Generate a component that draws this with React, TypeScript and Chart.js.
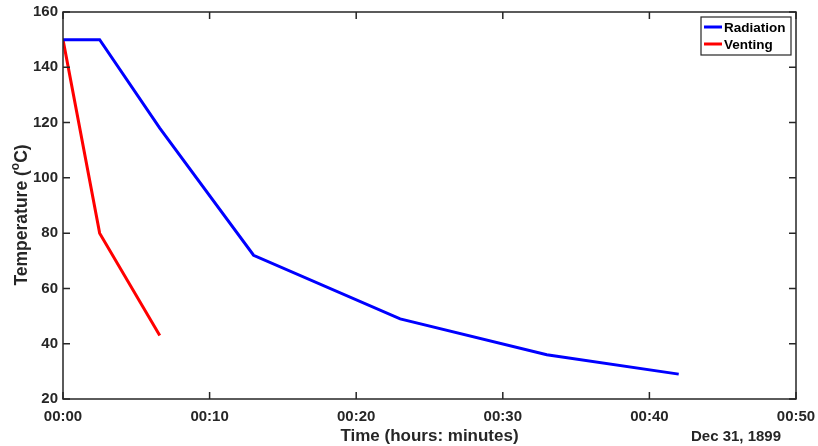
import React, { useEffect, useRef } from "react";
import { Chart, registerables } from "chart.js";

Chart.register(...registerables);

const radiationTime = [0, 2.5, 6.6, 13, 23, 33, 42];
const radiationTemp = [150, 150, 118, 72, 49, 36, 29];
const ventingTime = [0, 2.5, 6.6];
const ventingTemp = [150, 80, 43];
const seriesLabels = ["Radiation", "Venting"];
const xTitle = "Time (hours: minutes)";
const yTitleParts = ["Temperature (", "o", "C)"];
const dateLabel = "Dec 31, 1899";

const FONT = "'Liberation Sans', Arial, sans-serif";
const AXIS = "#262626";

function fmt(v: number) {
  const h = Math.floor(v / 60);
  const m = Math.round(v % 60);
  return String(h).padStart(2, "0") + ":" + String(m).padStart(2, "0");
}

const framePlugin = {
  id: "frame",
  afterDraw(chart: any) {
    const { ctx, chartArea: a, scales } = chart;
    const x = scales.x;
    const y = scales.y;
    ctx.save();
    ctx.strokeStyle = AXIS;
    ctx.lineWidth = 1.5;
    ctx.strokeRect(a.left, a.top, a.right - a.left, a.bottom - a.top);
    const tl = 7;
    ctx.beginPath();
    x.ticks.forEach((t: any) => {
      const px = x.getPixelForValue(t.value);
      ctx.moveTo(px, a.bottom);
      ctx.lineTo(px, a.bottom - tl);
      ctx.moveTo(px, a.top);
      ctx.lineTo(px, a.top + tl);
    });
    y.ticks.forEach((t: any) => {
      const py = y.getPixelForValue(t.value);
      ctx.moveTo(a.left, py);
      ctx.lineTo(a.left + tl, py);
      ctx.moveTo(a.right, py);
      ctx.lineTo(a.right - tl, py);
    });
    ctx.stroke();

    // legend
    const lx = 701, ly = 17, lw = 90, lh = 38;
    ctx.fillStyle = "#fff";
    ctx.fillRect(lx, ly, lw, lh);
    ctx.strokeStyle = AXIS;
    ctx.lineWidth = 1.2;
    ctx.strokeRect(lx, ly, lw, lh);
    ctx.font = "bold 13.5px " + FONT;
    ctx.textBaseline = "middle";
    ctx.textAlign = "left";
    chart.data.datasets.forEach((ds: any, i: number) => {
      const cy = ly + 10 + i * 17;
      ctx.strokeStyle = ds.borderColor;
      ctx.lineWidth = 3;
      ctx.beginPath();
      ctx.moveTo(lx + 3, cy);
      ctx.lineTo(lx + 21, cy);
      ctx.stroke();
      ctx.fillStyle = "#000";
      ctx.fillText(ds.label, lx + 23, cy + 1);
    });

    // x title and date label
    ctx.fillStyle = AXIS;
    ctx.textAlign = "center";
    ctx.font = "bold 17px " + FONT;
    ctx.fillText(xTitle, (a.left + a.right) / 2, 436);
    ctx.font = "bold 15px " + FONT;
    ctx.fillText(dateLabel, 736, 437);

    // y title with superscript
    ctx.save();
    ctx.translate(22, 215);
    ctx.rotate(-Math.PI / 2);
    const big = "bold 17.5px " + FONT;
    const small = "bold 12px " + FONT;
    ctx.font = big;
    const w1 = ctx.measureText(yTitleParts[0]).width;
    const w3 = ctx.measureText(yTitleParts[2]).width;
    ctx.font = small;
    const w2 = ctx.measureText(yTitleParts[1]).width;
    let cx = -(w1 + w2 + w3) / 2;
    ctx.textAlign = "left";
    ctx.font = big;
    ctx.fillText(yTitleParts[0], cx, 0);
    cx += w1;
    ctx.font = small;
    ctx.fillText(yTitleParts[1], cx, -6);
    cx += w2;
    ctx.font = big;
    ctx.fillText(yTitleParts[2], cx, 0);
    ctx.restore();
    ctx.restore();
  },
};

export default function App() {
  const ref = useRef<HTMLCanvasElement>(null);
  useEffect(() => {
    const chart = new Chart(ref.current!, {
      type: "line",
      data: {
        datasets: [
          {
            label: seriesLabels[0],
            data: radiationTime.map((t, i) => ({ x: t, y: radiationTemp[i] })),
            borderColor: "#0000FF",
            borderWidth: 3,
            pointRadius: 0,
            tension: 0,
          },
          {
            label: seriesLabels[1],
            data: ventingTime.map((t, i) => ({ x: t, y: ventingTemp[i] })),
            borderColor: "#FF0000",
            borderWidth: 3,
            pointRadius: 0,
            tension: 0,
          },
        ],
      },
      options: {
        animation: false,
        responsive: false,
        layout: { padding: { top: 12, right: 22, left: 0, bottom: 0 } },
        plugins: { legend: { display: false }, tooltip: { enabled: false } },
        scales: {
          x: {
            type: "linear",
            min: 0,
            max: 50,
            afterFit: (s: any) => { s.height = 47; s.paddingLeft = 0; s.paddingRight = 0; },
            ticks: {
              stepSize: 10,
              callback: (v: any) => fmt(Number(v)),
              color: AXIS,
              font: { family: FONT, size: 15, weight: "bold" },
              padding: 9,
              maxRotation: 0,
            },
            grid: { display: false, drawTicks: false },
            border: { display: false },
          },
          y: {
            min: 20,
            max: 160,
            afterFit: (s: any) => { s.width = 63; s.paddingTop = 0; s.paddingBottom = 0; },
            ticks: {
              stepSize: 20,
              color: AXIS,
              font: { family: FONT, size: 15, weight: "bold" },
              padding: 5,
            },
            grid: { display: false, drawTicks: false },
            border: { display: false },
          },
        },
      },
      plugins: [framePlugin],
    } as any);
    return () => chart.destroy();
  }, []);
  return (
    <div style={{ position: "fixed", left: 0, top: 0, width: 818, height: 446, background: "#fff" }}>
      <canvas ref={ref} width={818} height={446} />
    </div>
  );
}
